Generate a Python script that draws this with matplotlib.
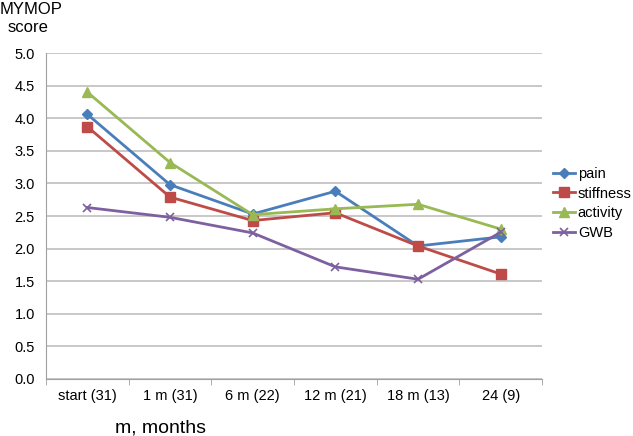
import matplotlib
matplotlib.use("Agg")
import matplotlib.pyplot as plt
import numpy as np

plt.rcParams['font.family'] = ['Liberation Sans', 'DejaVu Sans']

categories = ["start (31)", "1 m (31)", "6 m (22)", "12 m (21)", "18 m (13)", "24 (9)"]
pain = [4.06, 2.98, 2.53, 2.88, 2.04, 2.18]
stiffness = [3.87, 2.79, 2.43, 2.55, 2.04, 1.61]
activity = [4.40, 3.32, 2.52, 2.61, 2.68, 2.30]
gwb = [2.63, 2.48, 2.24, 1.72, 1.53, 2.25]
yticks = [0.0, 0.5, 1.0, 1.5, 2.0, 2.5, 3.0, 3.5, 4.0, 4.5, 5.0]

fig = plt.figure(figsize=(6.33, 4.36), dpi=100)
ax = fig.add_axes([46 / 633, 1 - 379 / 436, 496 / 633, 326 / 436])

x = np.arange(len(categories))
ax.plot(x, pain, color='#4a7ebb', lw=2.0, marker='D', ms=5, label='pain')
ax.plot(x, stiffness, color='#be4b48', lw=2.0, marker='s', ms=6.5, label='stiffness')
ax.plot(x, activity, color='#98b954', lw=2.0, marker='^', ms=7, label='activity')
ax.plot(x, gwb, color='#7d60a0', lw=2.0, marker='x', ms=6, mew=1.2, label='GWB')

ax.set_xlim(-0.5, len(categories) - 0.5)
ax.set_ylim(0, 5)
ax.set_yticks(yticks)
ax.set_yticklabels([f"{v:.1f}" for v in yticks], fontsize=10.5)
ax.yaxis.grid(True, color='#bfbfbf', lw=1.2)
ax.set_axisbelow(True)
ax.tick_params(axis='y', length=0, pad=8)

ax.set_xticks(x)
ax.set_xticklabels(categories, fontsize=10.5)
ax.set_xticks(np.arange(-0.5, len(categories)), minor=True)
ax.tick_params(axis='x', which='major', length=0, pad=7)
ax.tick_params(axis='x', which='minor', length=4, color='#a0a0a0', direction='out')

for s in ['top', 'right']:
    ax.spines[s].set_visible(False)
ax.spines['left'].set_color('#a0a0a0')
ax.spines['bottom'].set_color('#a0a0a0')

fig.text(0.0, 0.995, "MYMOP", fontsize=12, ha='left', va='top')
fig.text(8 / 633, 0.955, "score", fontsize=12, ha='left', va='top')
fig.text(115 / 633, 1 - 432 / 436, "m, months", fontsize=14, ha='left', va='baseline')

ax.legend(loc='upper left', bbox_to_anchor=(553 / 633, 1 - 167 / 436),
          bbox_transform=fig.transFigure, frameon=False,
          fontsize=10.5, handlelength=1.5, handletextpad=0.2, labelspacing=0.38,
          borderaxespad=0, borderpad=0)

fig.savefig("out.png", dpi=100)
